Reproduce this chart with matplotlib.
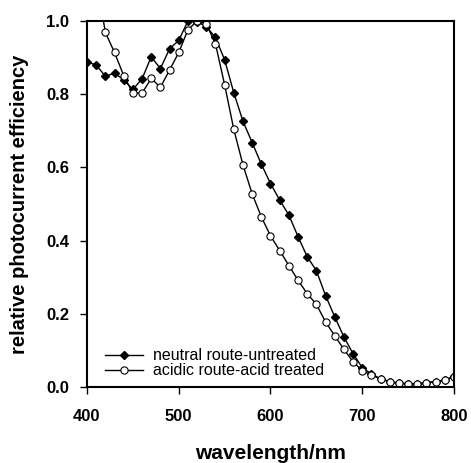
import matplotlib.pyplot as plt

plt.rcParams['font.family'] = ['Liberation Sans', 'DejaVu Sans']

# photocurrent action spectra, normalised to the maximum
wavelength = list(range(400, 810, 10))

neutral = [0.888, 0.880, 0.849, 0.858, 0.839, 0.813, 0.842, 0.902, 0.870, 0.924,
           0.947, 1.000, 0.998, 0.985, 0.955, 0.894, 0.804, 0.726, 0.668, 0.609,
           0.556, 0.511, 0.470, 0.411, 0.356, 0.318, 0.250, 0.192, 0.137, 0.091,
           0.053, 0.036, 0.022, 0.014, 0.010, 0.009, 0.009, 0.011, 0.015, 0.019,
           0.030]

acidic = [1.25, 1.12, 0.969, 0.914, 0.851, 0.803, 0.803, 0.843, 0.819, 0.866,
          0.914, 0.976, 1.000, 0.992, 0.938, 0.826, 0.704, 0.607, 0.528, 0.465,
          0.413, 0.373, 0.332, 0.292, 0.255, 0.226, 0.178, 0.140, 0.103, 0.069,
          0.045, 0.033, 0.022, 0.015, 0.011, 0.009, 0.009, 0.012, 0.015, 0.019,
          0.028]

fig = plt.figure(figsize=(4.71, 4.63), dpi=100)
ax = fig.add_axes([0.1847, 0.1641, 0.7792, 0.7905])

ax.plot(wavelength, neutral, color='black', lw=1.0, marker='D', ms=4.5,
        mfc='black', mec='black', label='neutral route-untreated')
ax.plot(wavelength, acidic, color='black', lw=1.0, marker='o', ms=5.2,
        mfc='white', mec='black', mew=0.8, label='acidic route-acid treated')

ax.set_xlim(400, 800)
ax.set_ylim(0, 1.0)
ax.set_xticks([400, 500, 600, 700, 800])
ax.set_yticks([0.0, 0.2, 0.4, 0.6, 0.8, 1.0])
ax.set_yticklabels(['0.0', '0.2', '0.4', '0.6', '0.8', '1.0'])

for s in ax.spines.values():
    s.set_linewidth(1.5)
ax.tick_params(direction='out', length=5, width=1.0, labelsize=12)
ax.tick_params(axis='x', pad=11)
ax.tick_params(axis='y', pad=8)
for lbl in ax.get_xticklabels() + ax.get_yticklabels():
    lbl.set_fontweight('bold')

ax.set_xlabel('wavelength/nm', fontsize=15, fontweight='bold', labelpad=14)
ax.set_ylabel('relative photocurrent efficiency', fontsize=14.5, fontweight='bold', labelpad=12)

ax.legend(loc='lower left', frameon=False, fontsize=11.5, handlelength=2.4,
          handletextpad=0.6, labelspacing=0.0, bbox_to_anchor=(0.025, 0.0),
          borderaxespad=0.15)

fig.savefig('out.png', dpi=100)
